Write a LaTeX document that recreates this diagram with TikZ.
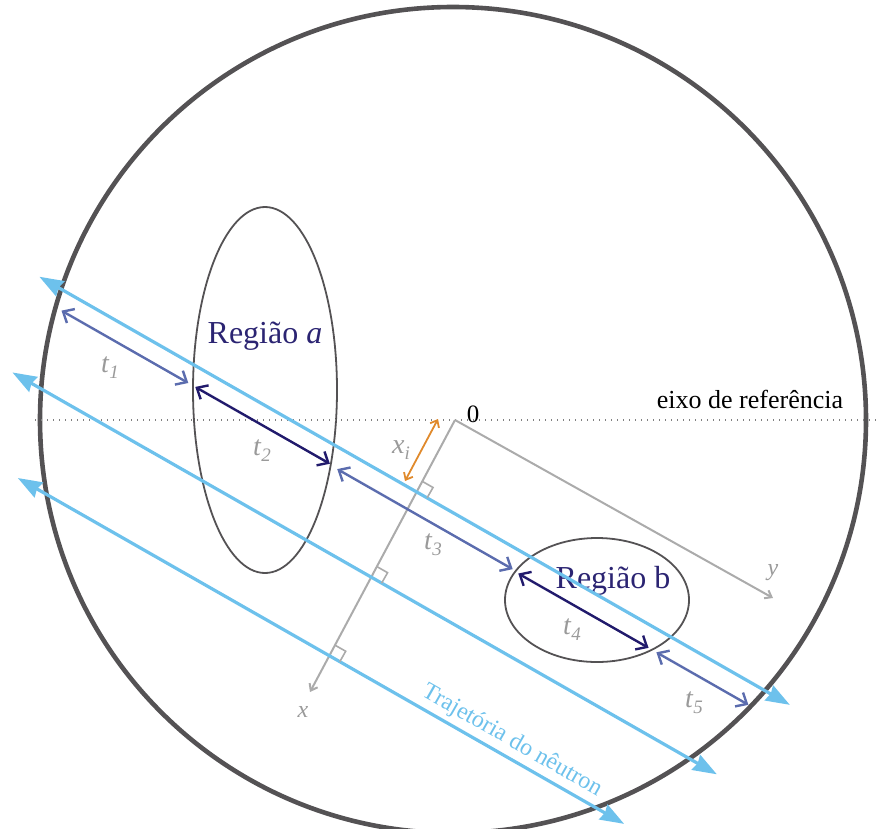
\documentclass[tikz,border=0pt]{standalone}
\usepackage{fontspec}
\setmainfont{Liberation Serif}
\usetikzlibrary{arrows.meta,shapes.geometric}
\definecolor{circc}{HTML}{545254}
\definecolor{trajc}{HTML}{6DC1EC}
\definecolor{tarr}{HTML}{5B6CAE}
\definecolor{tdark}{HTML}{211A6C}
\definecolor{axisg}{HTML}{ABABAB}
\definecolor{lblg}{HTML}{9A9A9A}
\definecolor{orng}{HTML}{E08A2C}
\definecolor{navyc}{HTML}{2B2472}
\definecolor{dotc}{HTML}{808080}
\newcommand\sublab[2]{\textit{#1}\raisebox{-0.22em}{\fontsize{19}{19}\selectfont\textit{#2}}}
\begin{document}
\begin{tikzpicture}[x=1pt,y=-1pt,
  traj/.style={draw=trajc, line width=3.2pt,
    arrows={Stealth[length=24pt,width=17pt,inset=2pt]-Stealth[length=24pt,width=17pt,inset=2pt]}},
  tlight/.style={draw=tarr, line width=2.4pt,
    arrows={Straight Barb[length=9pt,width=16pt]-Straight Barb[length=9pt,width=16pt]}},
  tdarkst/.style={draw=tdark, line width=2.4pt,
    arrows={Straight Barb[length=9pt,width=16pt]-Straight Barb[length=9pt,width=16pt]}},
  axisst/.style={draw=axisg, line width=2pt},
  axarrow/.style={axisst, arrows={-Straight Barb[length=6pt,width=9pt]}},
  rtmark/.style={draw=axisg, line width=1.6pt},
  glab/.style={text=lblg, font=\fontsize{28}{28}\selectfont, inner sep=0},
  reglab/.style={text=navyc, font=\fontsize{32}{32}\selectfont, inner sep=0, anchor=base},
  region/.style={draw=circc, line width=1.8pt, ellipse, inner sep=0}]
\useasboundingbox (0,0) rectangle (880,828);

% big circle
\node[circle, draw=circc, line width=4.6pt, minimum size=826pt, inner sep=0] (bigc) at (453,420) {};

% regions
\node[region, minimum width=144pt, minimum height=366pt] (rega) at (265,390) {};
\node[region, minimum width=184pt, minimum height=124pt] (regb) at (597,600) {};

% reference axis
\coordinate (refL) at (35,420);
\coordinate (refR) at (880,420);
\draw[draw=dotc, line width=1.3pt, dash pattern=on 1.3pt off 4.7pt] (refL) -- (refR);
\node[inner sep=0, anchor=base, font=\fontsize{26}{26}\selectfont] (eixo) at (750,408) {eixo de referência};

% coordinate axes
\coordinate (O) at (455,420);
\coordinate (Xe) at (310,692);
\coordinate (Ye) at (773,598);
\draw[axarrow] (O) -- (Xe);
\draw[axarrow] (O) -- (Ye);
\node[inner sep=0, font=\fontsize{25}{25}\selectfont] (zero) at (473,414) {0};
\node[glab, font=\fontsize{24}{24}\selectfont] (xlab) at (303,712) {\textit{x}};
\node[glab, font=\fontsize{24}{24}\selectfont] (ylab) at (773,573) {\textit{y}};

% region labels
\node[reglab] (rla) at (265,343) {Região \textit{a}};
\node[reglab] (rlb) at (613,588) {Região b};

\begin{scope}[shift={(455,420)}, x={(0.8686pt,-0.4955pt)}, y={(-0.4955pt,-0.8686pt)}]
  % trajectories
  \coordinate (L1a) at (-432,81.5);
  \coordinate (L1b) at (432,81.5);
  \coordinate (L2a) at (-408,178);
  \coordinate (L2b) at (403,178);
  \coordinate (L3a) at (-351,267);
  \coordinate (L3b) at (347,267);
  \draw[traj] (L1a) -- (L1b);
  \draw[traj] (L2a) -- (L2b);
  \draw[traj] (L3a) -- (L3b);
  % right-angle marks
  \coordinate (I1) at (intersection of O--Xe and L1a--L1b);
  \coordinate (I2) at (intersection of O--Xe and L2a--L2b);
  \coordinate (I3) at (intersection of O--Xe and L3a--L3b);
  \draw[rtmark] (I1) ++(0,-12) -- ++(12,0) -- ++(0,12);
  \draw[rtmark] (I2) ++(0,-12) -- ++(12,0) -- ++(0,12);
  \draw[rtmark] (I3) ++(0,-12) -- ++(12,0) -- ++(0,12);
  % path segments
  \coordinate (T1a) at (-396,100);
  \coordinate (T1b) at (-250,100);
  \coordinate (T2a) at (-242,100);
  \coordinate (T2b) at (-87,100);
  \coordinate (T3a) at (-78,101);
  \coordinate (T3b) at (124,101);
  \coordinate (T4a) at (131,102);
  \coordinate (T4b) at (281,102);
  \coordinate (T5a) at (290,102);
  \coordinate (T5b) at (396,102);
  \draw[tlight] (T1a) -- (T1b);
  \draw[tdarkst] (T2a) -- (T2b);
  \draw[tlight] (T3a) -- (T3b);
  \draw[tdarkst] (T4a) -- (T4b);
  \draw[tlight] (T5a) -- (T5b);
\end{scope}

% x_i
\coordinate (xiA) at (438,419);
\coordinate (xiB) at (405,481);
\draw[draw=orng, line width=1.8pt, arrows={Straight Barb[length=6pt,width=10pt]-Straight Barb[length=6pt,width=10pt]}] (xiA) -- (xiB);
\node[glab] (xil) at (401,450) {\sublab{x}{i}};

% t labels
\node[glab] (t1) at (110,368) {\sublab{t}{1}};
\node[glab] (t2) at (262,451) {\sublab{t}{2}};
\node[glab] (t3) at (433,545) {\sublab{t}{3}};
\node[glab] (t4) at (572,630) {\sublab{t}{4}};
\node[glab] (t5) at (694,703) {\sublab{t}{5}};

% trajectory label
\node[inner sep=0, text=trajc, rotate=-29.7, font=\fontsize{24}{24}\selectfont] (trl) at (512,741) {Trajetória do nêutron};
\end{tikzpicture}
\end{document}
